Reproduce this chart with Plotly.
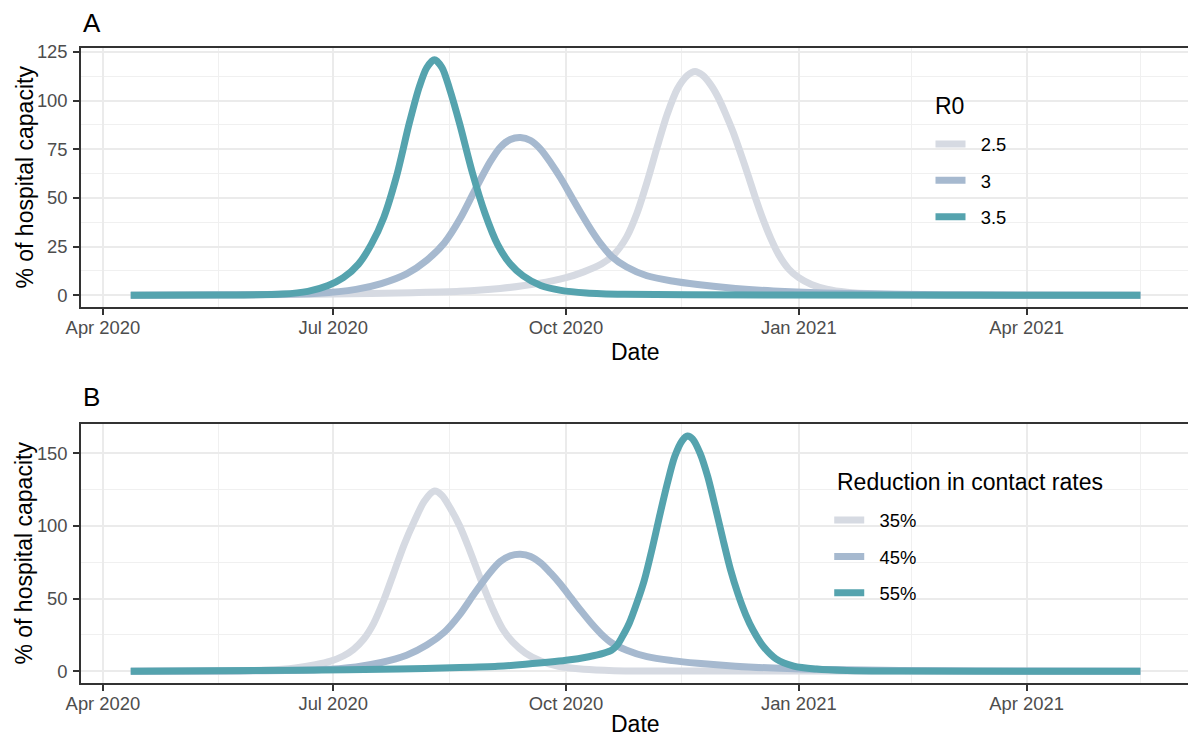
import plotly.graph_objects as go

# ---------------- data ----------------
# Panel A: R0 scenarios
a25_dates = ["2020-04-12", "2020-06-01", "2020-07-01", "2020-08-01", "2020-08-20", "2020-09-05",
             "2020-09-20", "2020-10-01", "2020-10-08", "2020-10-15", "2020-10-20", "2020-10-25",
             "2020-10-29", "2020-11-02", "2020-11-06", "2020-11-10", "2020-11-14", "2020-11-18",
             "2020-11-21", "2020-11-24", "2020-11-27", "2020-11-30", "2020-12-03", "2020-12-06",
             "2020-12-09", "2020-12-12", "2020-12-15", "2020-12-18", "2020-12-21", "2020-12-24",
             "2020-12-28", "2021-01-01", "2021-01-06", "2021-01-12", "2021-01-20", "2021-02-01",
             "2021-02-20", "2021-03-20", "2021-05-16"]
a25_vals = [0, 0.2, 0.6, 1.3, 2, 3.5,
            6, 9, 12, 16, 21, 30,
            42, 58, 76, 93, 106, 113,
            115, 113, 108.5, 102, 93.5, 84,
            73, 61.5, 49.5, 38.5, 29, 21,
            13.5, 9, 5.5, 3.1, 1.5, 0.6,
            0.2, 0.05, 0]

a30_dates = ["2020-04-12", "2020-05-25", "2020-06-25", "2020-07-10", "2020-07-20", "2020-07-30",
             "2020-08-07", "2020-08-14", "2020-08-20", "2020-08-26", "2020-09-01", "2020-09-05",
             "2020-09-09", "2020-09-13", "2020-09-17", "2020-09-21", "2020-09-25", "2020-09-29",
             "2020-10-03", "2020-10-07", "2020-10-11", "2020-10-15", "2020-10-19", "2020-10-25",
             "2020-11-02", "2020-11-12", "2020-11-22", "2020-12-07", "2020-12-22", "2021-01-11",
             "2021-02-10", "2021-03-12", "2021-05-16"]
a30_vals = [0, 0.2, 1, 3, 6, 11,
            18, 27, 39, 54, 68.5, 76,
            80, 81, 79.5, 75, 68, 60,
            51, 42, 33.5, 26, 20, 14.5,
            10, 7.3, 5.5, 3.5, 2.2, 1.2,
            0.5, 0.2, 0]

a35_dates = ["2020-04-12", "2020-05-15", "2020-06-11", "2020-06-21", "2020-06-29", "2020-07-05",
             "2020-07-11", "2020-07-16", "2020-07-21", "2020-07-26", "2020-07-31", "2020-08-04",
             "2020-08-07", "2020-08-10", "2020-08-13", "2020-08-16", "2020-08-20", "2020-08-25",
             "2020-08-30", "2020-09-04", "2020-09-09", "2020-09-14", "2020-09-21", "2020-09-29",
             "2020-10-09", "2020-10-24", "2020-11-18", "2021-05-16"]
a35_vals = [0, 0.1, 0.6, 2, 5, 9,
            16, 26, 40, 61, 88, 107,
            117, 121, 117, 106, 88, 63,
            42, 26, 16, 10, 5, 2.5,
            1.2, 0.5, 0.2, 0]

# Panel B: reduction in contact rates
b35_dates = ["2020-04-12", "2020-05-20", "2020-06-05", "2020-06-16", "2020-06-24", "2020-06-30",
             "2020-07-05", "2020-07-09", "2020-07-13", "2020-07-17", "2020-07-21", "2020-07-25",
             "2020-07-29", "2020-08-02", "2020-08-06", "2020-08-10", "2020-08-13", "2020-08-16",
             "2020-08-20", "2020-08-24", "2020-08-29", "2020-09-02", "2020-09-06", "2020-09-10",
             "2020-09-15", "2020-09-21", "2020-09-28", "2020-10-08", "2020-10-20", "2020-11-10",
             "2021-05-16"]
b35_vals = [0, 0.2, 0.8, 2.3, 4.5, 7,
            10.5, 15, 22, 33, 49, 68,
            87, 103, 117, 124, 121, 113,
            100, 83, 60, 43, 29, 20,
            12.5, 7, 3.4, 1.3, 0.4, 0.1,
            0]

b45_dates = a30_dates
b45_vals = [0, 0.2, 1, 3, 6, 11,
            18, 27, 39, 54, 68, 75.5,
            79.5, 80.5, 79, 74.5, 67.5, 59.5,
            50.5, 41.5, 33, 25.5, 19.6, 14.5,
            10, 7.3, 5.5, 3.5, 2.2, 1.2,
            0.5, 0.2, 0]

b55_dates = ["2020-04-12", "2020-05-15", "2020-06-17", "2020-07-27", "2020-08-20", "2020-09-04",
             "2020-09-15", "2020-10-01", "2020-10-10", "2020-10-16", "2020-10-19", "2020-10-21",
             "2020-10-23", "2020-10-26", "2020-10-29", "2020-11-01", "2020-11-04", "2020-11-07",
             "2020-11-10", "2020-11-13", "2020-11-16", "2020-11-18", "2020-11-20", "2020-11-23",
             "2020-11-26", "2020-11-29", "2020-12-02", "2020-12-05", "2020-12-08", "2020-12-11",
             "2020-12-14", "2020-12-18", "2020-12-23", "2020-12-30", "2021-01-08", "2021-01-20",
             "2021-02-10", "2021-05-16"]
b55_vals = [0, 0.3, 0.7, 1.6, 2.5, 3.4,
            4.8, 7.5, 10, 12.5, 14.5, 17.5,
            23, 33, 47, 63, 84, 107,
            129, 148, 159, 162, 160, 150,
            134, 113, 91, 70, 53, 39,
            28, 17, 8.5, 3.5, 1.5, 0.5,
            0.1, 0]

r0_labels = ["2.5", "3", "3.5"]
red_labels = ["35%", "45%", "55%"]
colors = ["#D6DAE2", "#A6B9CF", "#55A3AE"]

x_tickvals = ["2020-04-01", "2020-07-01", "2020-10-01", "2021-01-01", "2021-04-01"]
x_ticktext = ["Apr 2020", "Jul 2020", "Oct 2020", "Jan 2021", "Apr 2021"]
x_minor = ["2020-05-16 12:00", "2020-08-16", "2020-11-15 12:00", "2021-02-14 12:00", "2021-05-16"]
ya_ticks = [0, 25, 50, 75, 100, 125]
ya_minor = [12.5, 37.5, 62.5, 87.5, 112.5]
yb_ticks = [0, 50, 100, 150]
yb_minor = [25, 75, 125]

# ---------------- figure ----------------
FONT = "Liberation Sans, Arial, sans-serif"
LW = 7
PAD = "\u00a0\u00a0"  # gap between legend key and label

fig = go.Figure()
seriesA = [(a25_dates, a25_vals), (a30_dates, a30_vals), (a35_dates, a35_vals)]
seriesB = [(b35_dates, b35_vals), (b45_dates, b45_vals), (b55_dates, b55_vals)]
for i, (d, v) in enumerate(seriesA):
    fig.add_trace(go.Scatter(x=d, y=v, mode="lines", name=PAD + r0_labels[i],
                             line=dict(color=colors[i], width=LW, shape="spline", smoothing=0.8),
                             xaxis="x", yaxis="y", legend="legend", legendgroup="a" + str(i)))
for i, (d, v) in enumerate(seriesB):
    fig.add_trace(go.Scatter(x=d, y=v, mode="lines", name=PAD + red_labels[i],
                             line=dict(color=colors[i], width=LW, shape="spline", smoothing=0.8),
                             xaxis="x2", yaxis="y2", legend="legend2", legendgroup="b" + str(i)))

xr = ["2020-03-23 08:00", "2021-06-04 05:00"]
GRID_MINOR = dict(showgrid=True, gridcolor="#F0F0F0", gridwidth=1, ticks="")
common_x = dict(range=xr, type="date", tickmode="array", tickvals=x_tickvals, ticktext=x_ticktext,
                ticks="outside", ticklen=6, tickwidth=1.5, tickcolor="#333333",
                showline=True, mirror=True, linecolor="#333333", linewidth=1.5,
                showgrid=True, gridcolor="#EBEBEB", gridwidth=2, zeroline=False,
                tickfont=dict(family=FONT, size=18.4, color="#4D4D4D"), ticklabelstandoff=-3,
                minor=dict(tickvals=x_minor, **GRID_MINOR))
common_y = dict(ticks="outside", ticklen=6, tickwidth=1.5, tickcolor="#333333",
                showline=True, mirror=True, linecolor="#333333", linewidth=1.5,
                showgrid=True, gridcolor="#EBEBEB", gridwidth=2, zeroline=False,
                tickfont=dict(family=FONT, size=18.4, color="#4D4D4D"), ticklabelstandoff=2)

fig.update_layout(
    width=1188, height=730,
    margin=dict(l=73, r=5, t=40, b=55),
    paper_bgcolor="white", plot_bgcolor="white",
    font=dict(family=FONT, color="black"),
    xaxis=dict(domain=[0, 1], anchor="y", **common_x),
    yaxis=dict(domain=[0.5921, 1.0], anchor="x", range=[-6.05, 127.05], tickvals=ya_ticks,
               minor=dict(tickvals=ya_minor, **GRID_MINOR), **common_y),
    xaxis2=dict(domain=[0, 1], anchor="y2", **common_x),
    yaxis2=dict(domain=[0, 0.4079], anchor="x2", range=[-8.1, 170.2], tickvals=yb_ticks,
                minor=dict(tickvals=yb_minor, **GRID_MINOR), **common_y),
    legend=dict(x=0.7667, y=0.878, xanchor="left", yanchor="top",
                font=dict(family=FONT, size=18.4, color="black"),
                traceorder="grouped", tracegroupgap=9.5, bgcolor="rgba(0,0,0,0)", itemwidth=30),
    legend2=dict(x=0.6753, y=0.2858, xanchor="left", yanchor="top",
                 font=dict(family=FONT, size=18.4, color="black"),
                 traceorder="grouped", tracegroupgap=9.5, bgcolor="rgba(0,0,0,0)", itemwidth=30),
    showlegend=True,
)

ann = []
ann.append(dict(text="A", x=0.0, y=1.0394, xref="paper", yref="paper", xanchor="left", yanchor="middle",
                showarrow=False, font=dict(family=FONT, size=26, color="black")))
ann.append(dict(text="B", x=0.0, y=0.4504, xref="paper", yref="paper", xanchor="left", yanchor="middle",
                showarrow=False, font=dict(family=FONT, size=26, color="black")))
for yc in [(1.0 + 0.5921) / 2, 0.4079 / 2]:
    ann.append(dict(text="% of hospital capacity", x=-0.0514, y=yc, xref="paper", yref="paper",
                    xanchor="center", yanchor="middle", textangle=-90, showarrow=False,
                    font=dict(family=FONT, size=23, color="black")))
ann.append(dict(text="Date", x=0.5, y=0.5213, xref="paper", yref="paper", xanchor="center",
                yanchor="middle", showarrow=False, font=dict(family=FONT, size=23, color="black")))
ann.append(dict(text="Date", x=0.5, y=-0.0646, xref="paper", yref="paper", xanchor="center",
                yanchor="middle", showarrow=False, font=dict(family=FONT, size=23, color="black")))
# legend titles
ann.append(dict(text="R0", x=0.7694, y=0.9087, xref="paper", yref="paper", xanchor="left",
                yanchor="middle", showarrow=False, font=dict(family=FONT, size=23, color="black")))
ann.append(dict(text="Reduction in contact rates", x=0.6802, y=0.3165, xref="paper", yref="paper",
                xanchor="left", yanchor="middle", showarrow=False,
                font=dict(family=FONT, size=23, color="black")))
fig.update_layout(annotations=ann)

fig.write_html("out.html")
